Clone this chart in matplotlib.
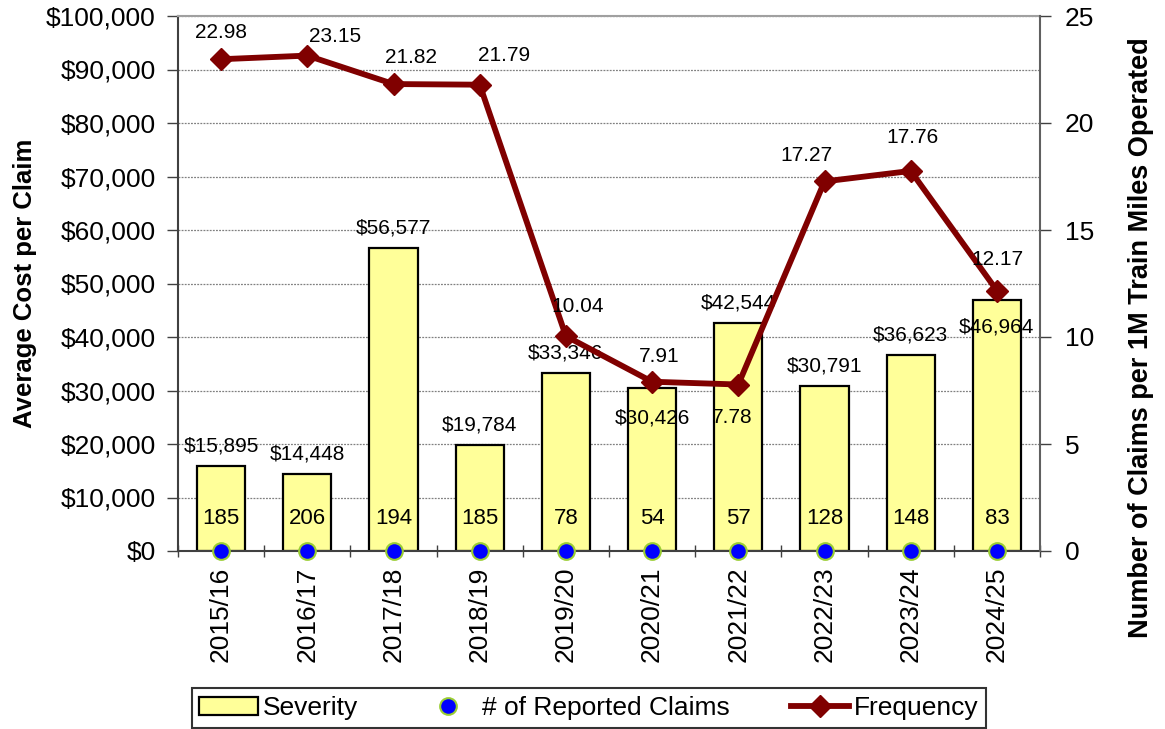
import matplotlib
matplotlib.use("Agg")
import matplotlib.pyplot as plt
from matplotlib.ticker import FuncFormatter, FixedLocator
from matplotlib.patches import Patch
from matplotlib.lines import Line2D

plt.rcParams['font.family'] = ['Liberation Sans', 'DejaVu Sans']

years = ['2015/16', '2016/17', '2017/18', '2018/19', '2019/20',
         '2020/21', '2021/22', '2022/23', '2023/24', '2024/25']
severity = [15895, 14448, 56577, 19784, 33346, 30426, 42544, 30791, 36623, 46964]
claims = [185, 206, 194, 185, 78, 54, 57, 128, 148, 83]
frequency = [22.98, 23.15, 21.82, 21.79, 10.04, 7.91, 7.78, 17.27, 17.76, 12.17]

# label offsets in pixels (dx, dy) relative to the point
sev_off = [20, 20, 20, 20, 20, -30, 20, 20, 20, -27]
freq_off = [(0, 27), (28, 19), (17, 27), (24, 29), (12, 30),
            (7, 25), (-6, -33), (-18, 26), (2, 33), (1, 31)]

px = 0.72  # points per pixel at dpi 100

fig = plt.figure(figsize=(11.65, 7.29), dpi=100)
ax = fig.add_axes([178 / 1165, 1 - 551 / 729, 862 / 1165, 535 / 729])
ax2 = ax.twinx()

x = list(range(len(years)))

ax.set_axisbelow(True)
ax.grid(axis='y', color='#808080', linestyle=(0, (1.5, 1)), linewidth=0.9)
ax.bar(x, severity, width=0.56, color='#FFFF99', edgecolor='black', linewidth=1.6, zorder=2)

for i, v in enumerate(severity):
    ax.annotate('${:,}'.format(v), (i, v), xytext=(0, sev_off[i] * px),
                textcoords='offset points', ha='center', va='center', fontsize=15, zorder=5)
for i, c in enumerate(claims):
    ax.annotate(str(c), (i, 0), xytext=(0, 33 * px), textcoords='offset points',
                ha='center', va='center', fontsize=16, zorder=5)

ax.set_xlim(-0.5, len(years) - 0.5)
ax.set_ylim(0, 100000)
ax.set_yticks(range(0, 100001, 10000))
ax.yaxis.set_major_formatter(FuncFormatter(lambda v, p: '${:,.0f}'.format(v)))
ax.set_xticks(x)
ax.set_xticklabels(years, rotation=90, fontsize=19)
ax.tick_params(axis='x', length=0, pad=11)
ax.xaxis.set_minor_locator(FixedLocator([i - 0.5 for i in range(len(years) + 1)]))
ax.tick_params(axis='x', which='minor', length=8, width=1, color='#404040', direction='inout')
ax.tick_params(axis='y', labelsize=19, length=8, width=1, color='#404040', pad=8)
ax.set_ylabel('Average Cost per Claim', fontsize=18.5, fontweight='bold')
ax.yaxis.set_label_coords((37 - 178) / 862, 0.5)

for s in ['left', 'bottom']:
    ax.spines[s].set_color('#404040')
    ax.spines[s].set_linewidth(1.5)
ax.spines['top'].set_color('#A0A0A0')
ax.spines['top'].set_linewidth(1.5)
ax.spines['right'].set_visible(False)

ax2.plot(x, frequency, color='#800000', linewidth=4.2, marker='D', markersize=11, zorder=4)
ax2.plot(x, [0] * len(x), linestyle='none', marker='o', markersize=12,
         markerfacecolor='#0000FF', markeredgecolor='#9ACD32', markeredgewidth=1.5,
         clip_on=False, zorder=6)
for i, f in enumerate(frequency):
    dx, dy = freq_off[i]
    ax2.annotate('{:.2f}'.format(f), (i, f), xytext=(dx * px, dy * px),
                 textcoords='offset points', ha='center', va='center', fontsize=15, zorder=5)
ax2.set_ylim(0, 25)
ax2.set_yticks(range(0, 26, 5))
ax2.tick_params(axis='y', labelsize=19, length=8, width=1, color='#404040', pad=10)
ax2.set_ylabel('Number of Claims per 1M Train Miles Operated', fontsize=19.5,
               fontweight='bold')
ax2.yaxis.set_label_coords((1128 - 178) / 862, (551 - 338) / 535)
ax2.spines['right'].set_color('#606060')
ax2.spines['right'].set_linewidth(1.5)
for s in ['left', 'bottom', 'top']:
    ax2.spines[s].set_visible(False)

handles = [
    Patch(facecolor='#FFFF99', edgecolor='black', linewidth=1.6, label='Severity'),
    Line2D([], [], linestyle='none', marker='o', markersize=12, markerfacecolor='#0000FF',
           markeredgecolor='#9ACD32', markeredgewidth=1.5, label='# of Reported Claims'),
    Line2D([], [], color='#800000', linewidth=4.2, marker='D', markersize=11, label='Frequency'),
]
leg = fig.legend(handles=handles, loc='center', bbox_to_anchor=(589 / 1165, 1 - 708 / 729),
                 ncol=3, fontsize=19, frameon=True, fancybox=False, edgecolor='black',
                 borderpad=0.3, handlelength=2.2, handletextpad=0.2, columnspacing=2.3)
leg.get_frame().set_linewidth(1.5)

fig.savefig('out.png', dpi=100)
